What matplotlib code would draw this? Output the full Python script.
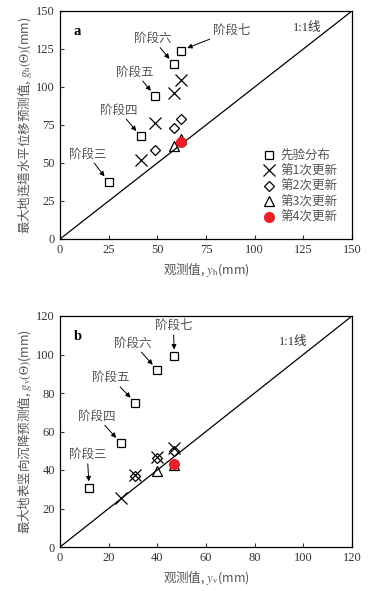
import matplotlib
matplotlib.use('Agg')
import matplotlib.pyplot as plt
import numpy as np

plt.rcParams['font.family'] = ['Liberation Serif', 'Noto Sans CJK SC']
plt.rcParams['mathtext.fontset'] = 'stix'

# panel a: horizontal displacement of diaphragm wall
xa_obs = [25, 41.5, 49, 58.5, 62]
ya_prior = [37.5, 67.5, 94, 115, 124]
ya_upd1 = [52, 76, 96, 104.5]
ya_upd2 = [58.5, 73, 79]
ya_upd3 = [61, 66]
ya_upd4 = [63.5]

# panel b: vertical settlement of ground surface
xb_obs = [12, 25, 31, 40, 47]
yb_prior = [30.5, 54, 75, 92, 99]
yb_upd1 = [25.5, 37.5, 47, 51.5]
yb_upd2 = [37, 46, 50]
yb_upd3 = [39.5, 42.5]
yb_upd4 = [43]

stages = ['阶段三', '阶段四', '阶段五', '阶段六', '阶段七']
legend_labels = ['先验分布', '第1次更新', '第2次更新', '第3次更新', '第4次更新']

# text positions of stage labels (data coords)
text_a = [(14, 56), (30, 85), (38.5, 110), (47.5, 132), (88, 137)]
text_b = [(11.2, 48), (15, 68), (21, 88), (30, 106), (46.6, 115)]

cjk = ['Noto Sans CJK SC', 'DejaVu Sans']
txt_col = '#555555'


def draw(ax, x, prior, u1, u2, u3, u4, lim, ticks, texts, tag, line_pos,
         xlab, ylab, legend):
    ax.plot([0, lim], [0, lim], color='black', lw=0.9, zorder=1)
    ax.plot(x, prior, 's', ms=6, mfc='white', mec='black', mew=0.9, ls='none',
            label=legend_labels[0])
    ax.plot(x[-len(u1):], u1, 'x', ms=8, color='black', mew=0.9, ls='none',
            label=legend_labels[1])
    ax.plot(x[-len(u2):], u2, 'D', ms=5, mfc='none', mec='black', mew=0.9, ls='none',
            label=legend_labels[2])
    ax.plot(x[-len(u3):], u3, '^', ms=7, mfc='none', mec='black', mew=0.9, ls='none',
            label=legend_labels[3])
    ax.plot(x[-len(u4):], u4, 'o', ms=7, color='#e8212a', ls='none',
            label=legend_labels[4], zorder=5)

    for i, name in enumerate(stages):
        ax.annotate(name, xy=(x[i], prior[i]), xytext=texts[i],
                    fontsize=9, color=txt_col, family=cjk,
                    ha='center', va='center',
                    arrowprops=dict(arrowstyle='-|>', color='black', lw=0.7,
                                    shrinkA=0, shrinkB=5, mutation_scale=7))

    ax.set_xlim(0, lim)
    ax.set_ylim(0, lim)
    ax.set_xticks(ticks)
    ax.set_yticks(ticks)
    ax.tick_params(direction='in', length=3, labelsize=9, colors='#333333',
                   top=False, right=False)
    for s in ax.spines.values():
        s.set_linewidth(0.9)
    ax.text(0.06, 0.91, tag, transform=ax.transAxes, fontsize=10.5,
            fontweight='bold', ha='center', va='center')
    ax.text(line_pos[0], line_pos[1], '1:1线', fontsize=9, ha='center',
            va='center', color='#333333')
    ax.set_xlabel(xlab, fontsize=9, color=txt_col, family=cjk, labelpad=3)
    ax.set_ylabel(ylab, fontsize=9, color=txt_col, family=cjk, labelpad=2)
    if legend:
        ax.legend(loc='lower right', frameon=False,
                  prop={'family': cjk, 'size': 9},
                  handletextpad=0.3, labelspacing=0.2, borderaxespad=0.8,
                  handlelength=1.2, labelcolor=txt_col)


fig = plt.figure(figsize=(3.82, 5.91), dpi=100)
ax1 = fig.add_axes([60 / 382, 1 - 239 / 591, 292 / 382, 228 / 591])
ax2 = fig.add_axes([60 / 382, 1 - 547 / 591, 292 / 382, 231 / 591])

draw(ax1, xa_obs, ya_prior, ya_upd1, ya_upd2, ya_upd3, ya_upd4, 150,
     np.arange(0, 151, 25), text_a, 'a', (127, 139),
     r'观测值, $y_{\rm h}$(mm)', r'最大地连墙水平位移预测值, $g_{\rm h}(\Theta)$(mm)', True)
draw(ax2, xb_obs, yb_prior, yb_upd1, yb_upd2, yb_upd3, yb_upd4, 120,
     np.arange(0, 121, 20), text_b, 'b', (96, 106.5),
     r'观测值, $y_{\rm v}$(mm)', r'最大地表竖向沉降预测值, $g_{\rm v}(\Theta)$(mm)', False)

fig.savefig('out.png', dpi=100)
